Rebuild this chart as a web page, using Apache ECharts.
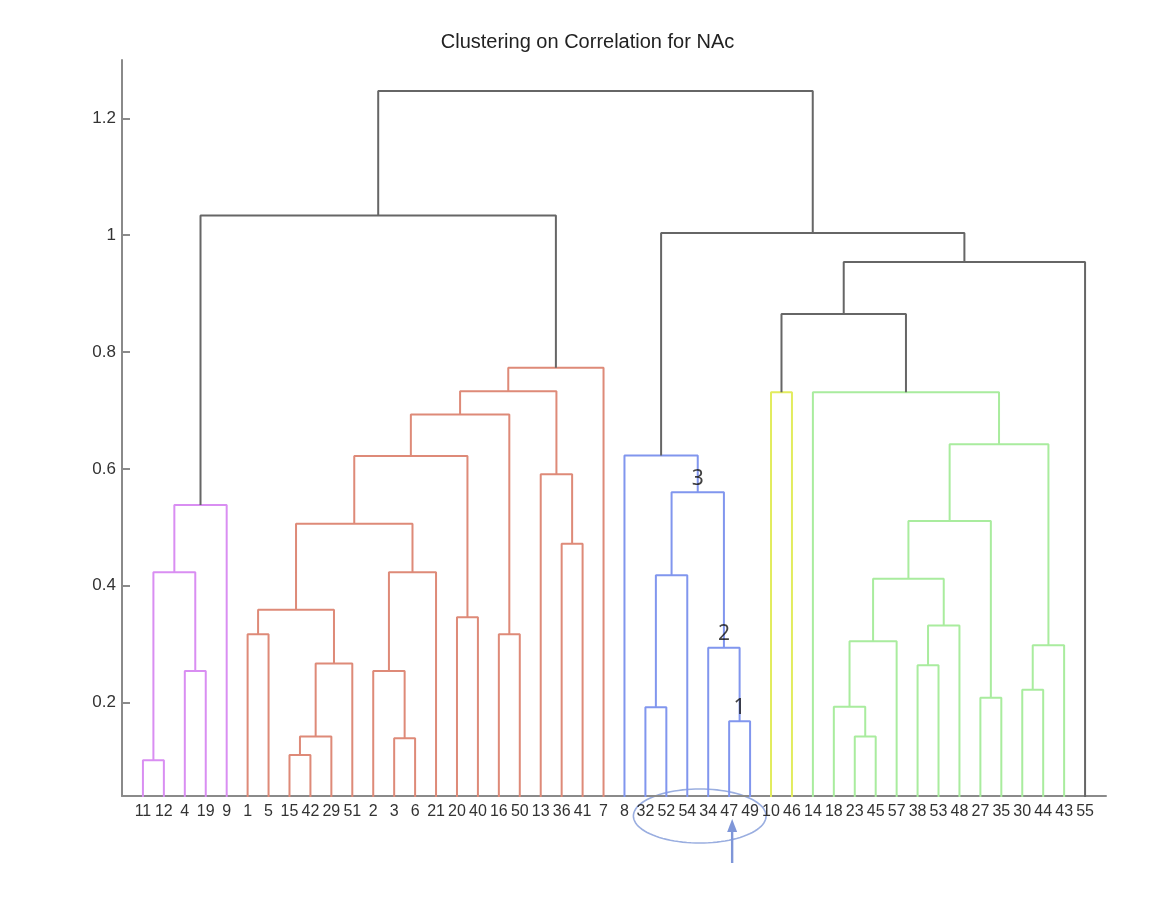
<!DOCTYPE html>
<html><head><meta charset="utf-8">
<script src="https://cdn.jsdelivr.net/npm/echarts@6/dist/echarts.min.js"></script>
<style>html,body{margin:0;padding:0;background:#fff}#c{width:1175px;height:900px}</style>
</head><body><div id="c"></div>
<script>
// leaf order along the x axis
const leafLabels = ['11','12','4','19','9','1','5','15','42','29','51','2','3','6','21','20','40','16','50','13','36','41','7','8','32','52','54','34','47','49','10','46','14','18','23','45','57','38','53','48','27','35','30','44','43','55'];
// linkage: node = leaf label or 'L<n>' (1-based link index)
const linkLeft  = ['11','4','L1','L3','1','15','L6','L7','L5','3','2','L11','L9','20','L13','16','L15','36','13','L17','L20','32','L22','47','34','L23','8','10','23','18','L30','38','L32','L31','27','L34','30','L37','L36','14','L28','L41','L27','L4','L44'];
const linkRight = ['12','19','L2','9','5','42','29','51','L8','6','L10','21','L12','40','L14','50','L16','41','L18','L19','7','52','54','49','L24','L25','L26','46','45','L29','57','53','48','L33','35','L35','44','43','L38','L39','L40','55','L42','L21','L43'];
const linkHeight = [0.101,0.254,0.423,0.538, 0.317,0.110,0.142,0.267,0.359,0.139,0.254,0.423,0.506,0.346,0.622,0.317,0.693,0.472,0.591,0.733,0.773, 0.192,0.418,0.168,0.294,0.560,0.623, 0.731, 0.142,0.193,0.305,0.264,0.332,0.412,0.208,0.511,0.222,0.298,0.642,0.731, 0.865,0.954,1.004,1.034,1.247];
const linkGroup = ['P','P','P','P', 'R','R','R','R','R','R','R','R','R','R','R','R','R','R','R','R','R', 'B','B','B','B','B','B', 'Y', 'G','G','G','G','G','G','G','G','G','G','G','G', 'K','K','K','K','K'];
const yTicks = [0.2,0.4,0.6,0.8,1,1.2];
const annotNodes = ['L26','L25','L24'];
const annotText = ['3','2','1'];
const circledFirst = '32', circledLast = '49', arrowLeaf = '47';

const groupColor = {P:'#d98ef2', R:'#de8a78', B:'#8196ee', Y:'#e2ec5e', G:'#a9ec9e', K:'#666666'};

function nodeX(id){ return id[0]==='L' ? linkX[+id.slice(1)-1] : leafLabels.indexOf(id)+1; }
function nodeH(id){ return id[0]==='L' ? linkHeight[+id.slice(1)-1] : 0; }
const linkX = [];
for (let i=0;i<linkLeft.length;i++) linkX.push((nodeX(linkLeft[i])+nodeX(linkRight[i]))/2);

const series = [];
for (let i=0;i<linkLeft.length;i++){
  const xa=nodeX(linkLeft[i]), xb=nodeX(linkRight[i]), h=linkHeight[i];
  series.push({type:'line', data:[[xa,nodeH(linkLeft[i])],[xa,h],[xb,h],[xb,nodeH(linkRight[i])]],
    symbol:'none', silent:true, animation:false, clip:true,
    lineStyle:{color:groupColor[linkGroup[i]], width:2}});
}
series.push({type:'scatter', symbolSize:0, silent:true, animation:false, z:10,
  data: annotNodes.map((n,i)=>({value:[nodeX(n), nodeH(n)], label:{show:true, formatter:annotText[i]}})),
  label:{position:'top', distance:3, offset:[2,0], fontSize:21, color:'#111', fontFamily:'Noto Sans, sans-serif'},
  labelLayout:{hideOverlap:false}});

const chart = echarts.init(document.getElementById('c'));
const axisGray = '#8a8a8a';
chart.setOption({
  backgroundColor:'#fff',
  animation:false,
  title:{text:'Clustering on Correlation for NAc', left:'center', top:32, padding:0,
    textStyle:{fontSize:20, fontWeight:'normal', color:'#222', fontFamily:'Liberation Sans, Arial, sans-serif'}},
  grid:{left:122, right:69, top:60, bottom:104},
  xAxis:{type:'value', min:0, max:47,
    axisLine:{show:true, onZero:false, lineStyle:{color:axisGray, width:2}},
    axisTick:{show:false}, splitLine:{show:false},
    axisLabel:{customValues:leafLabels.map((_,i)=>i+1), formatter:v=>leafLabels[Math.round(v)-1],
      margin:8, fontSize:16, color:'#333', fontFamily:'Liberation Sans, Arial, sans-serif'}},
  yAxis:{type:'value', min:0.04, max:1.3,
    axisLine:{show:true, onZero:false, lineStyle:{color:axisGray, width:2}},
    axisTick:{show:true, inside:true, length:8, customValues:yTicks, lineStyle:{color:axisGray, width:2}},
    splitLine:{show:false},
    axisLabel:{customValues:yTicks, formatter:v=>String(parseFloat((+v).toFixed(2))),
      margin:6, fontSize:17, color:'#333', fontFamily:'Liberation Sans, Arial, sans-serif'}},
  series
});

// annotation: ellipse round the circled leaf labels and an arrow under one leaf
const p1 = chart.convertToPixel({gridIndex:0}, [leafLabels.indexOf(circledFirst)+1, 0.04]);
const p2 = chart.convertToPixel({gridIndex:0}, [leafLabels.indexOf(circledLast)+1, 0.04]);
const pa = chart.convertToPixel({gridIndex:0}, [leafLabels.indexOf(arrowLeaf)+1, 0.04]);
const cx = (p1[0]+p2[0])/2 + 2, cy = p1[1] + 20, rx = (p2[0]-p1[0])/2 + 14, ry = 27;
const pts = [];
for (let k=0;k<=96;k++){ const t=k/96*Math.PI*2; pts.push([cx+rx*Math.cos(t), cy+ry*Math.sin(t)]); }
const ax = pa[0] + 3, ayTop = p1[1] + 23, ayBot = p1[1] + 67;
chart.setOption({graphic:[
  {type:'polyline', shape:{points:pts}, style:{stroke:'#9aaee0', lineWidth:1.6, fill:null}, silent:true},
  {type:'line', shape:{x1:ax, y1:ayBot, x2:ax, y2:ayTop+10}, style:{stroke:'#7f96d8', lineWidth:2.4}, silent:true},
  {type:'polygon', shape:{points:[[ax,ayTop],[ax-5,ayTop+13],[ax+5,ayTop+13]]}, style:{fill:'#7f96d8'}, silent:true}
]});
</script>
</body></html>
